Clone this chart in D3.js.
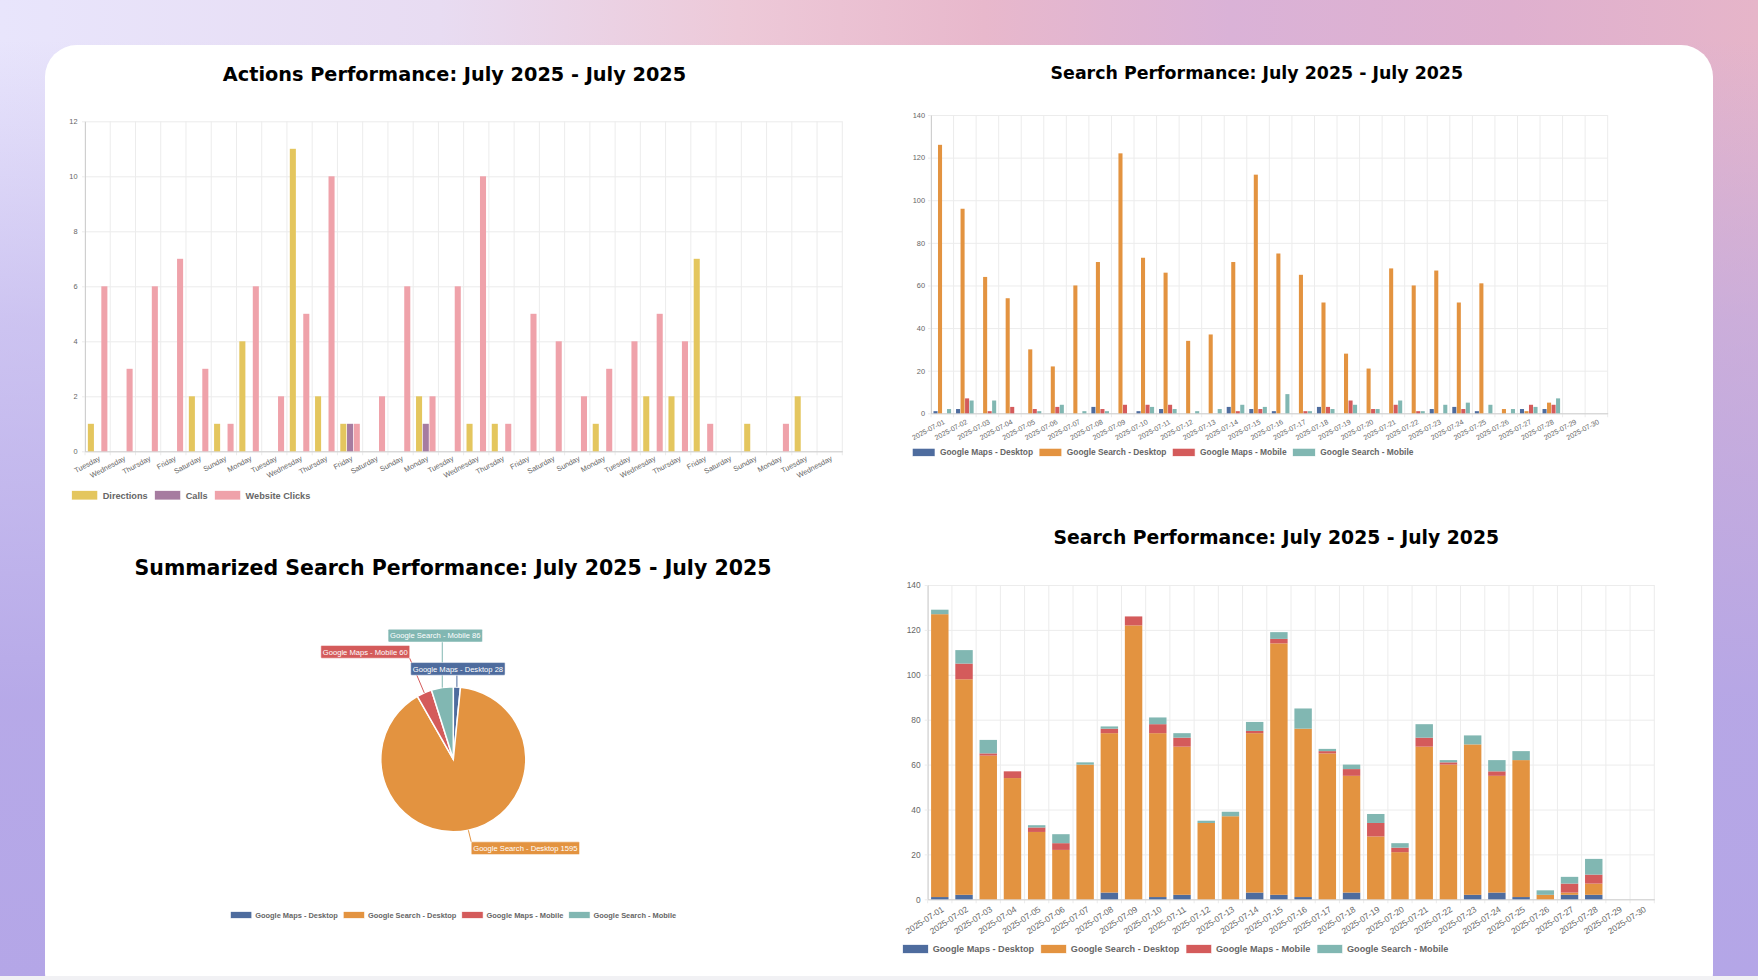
<!DOCTYPE html>
<html><head><meta charset="utf-8">
<script src="https://cdn.jsdelivr.net/npm/d3@7"></script>
<style>
html,body{margin:0;padding:0;width:1758px;height:980px;overflow:hidden;}
body{
 background:
  linear-gradient(180deg, rgba(182,168,232,0) 0px, rgba(182,168,232,0) 40px, rgba(182,168,232,0.55) 320px, rgba(180,166,231,0.95) 700px, rgba(180,166,231,1) 980px),
  linear-gradient(90deg, #e8e5fc 0%, #e8dcf2 25%, #edc9d8 42%, #e8b8cc 56%, #dab2d7 70%, #dfb0cf 86%, #e6b5c9 100%);
}
svg{position:absolute;left:0;top:0;}
</style></head>
<body>
<svg id="c" width="1758" height="980"></svg>
<script>
// ---------- DATA ----------
const dayLabels = ["Tuesday","Wednesday","Thursday","Friday","Saturday","Sunday","Monday",
  "Tuesday","Wednesday","Thursday","Friday","Saturday","Sunday","Monday",
  "Tuesday","Wednesday","Thursday","Friday","Saturday","Sunday","Monday",
  "Tuesday","Wednesday","Thursday","Friday","Saturday","Sunday","Monday",
  "Tuesday","Wednesday"];
const directions    = [1,0,0,0,2,1,4,0,11,2,1,0,0,2,0,1,1,0,0,0,1,0,2,2,7,0,1,0,2,0];
const calls         = [0,0,0,0,0,0,0,0,0,0,1,0,0,1,0,0,0,0,0,0,0,0,0,0,0,0,0,0,0,0];
const websiteClicks = [6,3,6,7,3,1,6,2,5,10,1,2,6,2,6,10,1,5,4,2,3,4,5,4,1,0,0,1,0,0];
const actionTicks = [0,2,4,6,8,10,12];

const dateLabels = ["2025-07-01","2025-07-02","2025-07-03","2025-07-04","2025-07-05","2025-07-06",
  "2025-07-07","2025-07-08","2025-07-09","2025-07-10","2025-07-11","2025-07-12","2025-07-13",
  "2025-07-14","2025-07-15","2025-07-16","2025-07-17","2025-07-18","2025-07-19","2025-07-20",
  "2025-07-21","2025-07-22","2025-07-23","2025-07-24","2025-07-25","2025-07-26","2025-07-27",
  "2025-07-28","2025-07-29","2025-07-30"];
const mapsDesktop   = [1,2,0,0,0,0,0,3,0,1,2,0,0,3,2,1,0,3,0,0,0,0,2,3,1,0,2,2,0,0];
const searchDesktop = [126,96,64,54,30,22,60,71,122,73,66,34,37,71,112,75,65,52,28,21,68,60,67,52,61,2,1,5,0,0];
const mapsMobile    = [0,7,1,3,2,3,0,2,4,4,4,0,0,1,2,0,1,3,6,2,4,1,0,2,0,0,4,4,0,0];
const searchMobile  = [2,6,6,0,1,4,1,1,0,3,2,1,2,4,3,9,1,2,4,2,6,1,4,5,4,2,3,7,0,0];
const searchTicks = [0,20,40,60,80,100,120,140];

const pieLabels = ["Google Maps - Desktop","Google Search - Desktop","Google Maps - Mobile","Google Search - Mobile"];
const pieValues = [28,1595,60,86];

const actionSeries = ["Directions","Calls","Website Clicks"];
const searchSeries = ["Google Maps - Desktop","Google Search - Desktop","Google Maps - Mobile","Google Search - Mobile"];

// ---------- STYLE / LAYOUT ----------
const C = {dir:"#e4c65e", calls:"#a67ca0", clicks:"#efa2aa", md:"#4e6c9e", sd:"#e39340", mm:"#d45b5b", sm:"#81b7b2"};
const actionColors = [C.dir, C.calls, C.clicks];
const searchColors = [C.md, C.sd, C.mm, C.sm];
const gridColor = "#ececec", axisColor = "#cfcfcf", tickColor = "#666";
const FONT = "'Liberation Sans', Arial, Helvetica, sans-serif";
const TFONT = "'DejaVu Sans', sans-serif";
const pieLabelOffsets = [[1,-18],[57,18],[-59,-41],[-7,-52]];

const svg = d3.select("#c");
svg.append("rect").attr("x",45).attr("y",45).attr("width",1668).attr("height",960).attr("rx",32).attr("fill","#fff");
svg.append("rect").attr("x",0).attr("y",976).attr("width",1758).attr("height",4).attr("fill","#f1f1f4");

function title(text, cx, baseline, size){
  svg.append("text").attr("x",cx).attr("y",baseline).attr("text-anchor","middle")
    .attr("font-family",TFONT).attr("font-weight","bold").attr("font-size",size).attr("fill","#000").text(text);
}

function legend(items, colors, cfg){
  const g = svg.append("g");
  let xpos = 0;
  items.forEach((t,i)=>{
    g.append("rect").attr("x",xpos).attr("y",cfg.y-cfg.bh/2).attr("width",cfg.bw).attr("height",cfg.bh)
      .attr("fill",colors[i]).attr("stroke","#fff").attr("stroke-width",0.6);
    const tx = g.append("text").attr("x",xpos+cfg.bw+cfg.gap).attr("y",cfg.y).attr("dy","0.35em")
      .attr("font-family",FONT).attr("font-weight","bold").attr("font-size",cfg.fs).attr("fill",tickColor).text(t);
    xpos += cfg.bw + cfg.gap + tx.node().getComputedTextLength() + cfg.sep;
  });
  const total = xpos - cfg.sep;
  const start = cfg.center !== undefined ? cfg.center - total/2 : cfg.x;
  g.attr("transform",`translate(${start},0)`);
}

function frame(cfg, labels, ticks){
  const g = svg.append("g");
  const x = d3.scaleBand().domain(d3.range(labels.length)).range([cfg.x0,cfg.x1]).padding(0);
  const y = d3.scaleLinear().domain([0, ticks[ticks.length-1]]).range([cfg.y0, cfg.yTop]);
  // horizontal grid
  const gy = g.append("g").attr("transform",`translate(${cfg.x0},0)`)
    .call(d3.axisLeft(y).tickValues(ticks).tickSize(-(cfg.x1-cfg.x0)).tickFormat(""));
  gy.select(".domain").remove();
  gy.selectAll("line").attr("stroke",gridColor);
  // vertical grid at category boundaries
  const bounds = x.domain().map(d=>x(d)).concat([cfg.x1]);
  g.append("g").selectAll("line").data(bounds).join("line")
    .attr("x1",d=>d).attr("x2",d=>d).attr("y1",cfg.yTop).attr("y2",cfg.y0+4).attr("stroke",gridColor);
  // y axis
  const ya = g.append("g").attr("transform",`translate(${cfg.x0},0)`)
    .call(d3.axisLeft(y).tickValues(ticks).tickSize(3).tickSizeOuter(0).tickPadding(cfg.yPad));
  ya.attr("font-family",FONT).attr("font-size",cfg.yfs);
  ya.select(".domain").attr("stroke",axisColor);
  ya.selectAll(".tick line").attr("stroke",gridColor);
  ya.selectAll("text").attr("fill",tickColor);
  // x axis
  const xa = g.append("g").attr("transform",`translate(0,${cfg.y0})`)
    .call(d3.axisBottom(x).tickSize(0).tickSizeOuter(0).tickFormat(i=>labels[i]));
  xa.attr("font-family",FONT).attr("font-size",cfg.xfs);
  xa.select(".domain").attr("stroke",axisColor);
  xa.selectAll("text").attr("y",0).attr("x",0).attr("dy","0.35em").attr("fill",tickColor)
    .attr("text-anchor","end").attr("transform",`translate(${cfg.ldx},${cfg.ldy}) rotate(${-cfg.angle})`);
  return {g,x,y};
}

function groupedBars(f, series, colors){
  const bw = f.x.bandwidth();
  const xs = d3.scaleBand().domain(d3.range(series.length)).range([bw*0.1, bw*0.9]).paddingInner(0.1).paddingOuter(0.05);
  series.forEach((vals,si)=>{
    f.g.append("g").selectAll("rect").data(vals.map((v,i)=>({v,i})).filter(d=>d.v>0)).join("rect")
      .attr("x",d=>f.x(d.i)+xs(si)).attr("width",xs.bandwidth())
      .attr("y",d=>f.y(d.v)).attr("height",d=>f.y(0)-f.y(d.v)).attr("fill",colors[si]);
  });
}

// ---------- Chart A: Actions ----------
title("Actions Performance: July 2025 - July 2025", 454.5, 81, 19.3);
const fA = frame({x0:85,x1:842.3,y0:451.3,yTop:121.3,yPad:4.5,yfs:7.4,xfs:7.4,angle:28,ldx:2,ldy:6.5}, dayLabels, actionTicks);
groupedBars(fA, [directions, calls, websiteClicks], actionColors);
legend(actionSeries, actionColors, {x:71.7, y:495.3, bw:26, bh:9.3, gap:5, sep:7, fs:9.2});

// ---------- Chart B: Search grouped ----------
title("Search Performance: July 2025 - July 2025", 1256.8, 78.5, 17.4);
const fB = frame({x0:931,x1:1607.7,y0:413.3,yTop:115,yPad:3,yfs:7.4,xfs:7,angle:28,ldx:2,ldy:8}, dateLabels, searchTicks);
groupedBars(fB, [mapsDesktop, searchDesktop, mapsMobile, searchMobile], searchColors);
legend(searchSeries, searchColors, {x:912.3, y:452.3, bw:22.7, bh:8, gap:5, sep:6, fs:8.4});

// ---------- Chart D: Search stacked ----------
title("Search Performance: July 2025 - July 2025", 1276.3, 544, 18.8);
const fD = frame({x0:927.7,x1:1654.3,y0:899.3,yTop:585,yPad:4,yfs:8.4,xfs:8.5,angle:33,ldx:3,ldy:9}, dateLabels, searchTicks);
{
  const rows = dateLabels.map((d,i)=>({i, md:mapsDesktop[i], sd:searchDesktop[i], mm:mapsMobile[i], sm:searchMobile[i]}));
  const keys = ["md","sd","mm","sm"];
  const stacked = d3.stack().keys(keys)(rows);
  const bw = fD.x.bandwidth();
  stacked.forEach((layer,k)=>{
    fD.g.append("g").selectAll("rect").data(layer.filter(d=>d[1]-d[0]>0)).join("rect")
      .attr("x",d=>fD.x(d.data.i)+bw*0.14).attr("width",bw*0.72)
      .attr("y",d=>fD.y(d[1])).attr("height",d=>fD.y(d[0])-fD.y(d[1])).attr("fill",searchColors[k]);
  });
}
legend(searchSeries, searchColors, {x:902.7, y:949, bw:25.6, bh:8.7, gap:4.4, sep:6.7, fs:9.15});

// ---------- Chart C: Pie ----------
title("Summarized Search Performance: July 2025 - July 2025", 453, 575, 20.5);
{
  const cx = 453.3, cy = 759.3, r = 72.5;
  const pie = d3.pie().sort(null).value(d=>d)(pieValues);
  const arc = d3.arc().innerRadius(0).outerRadius(r);
  const g = svg.append("g").attr("transform",`translate(${cx},${cy})`);
  g.selectAll("path").data(pie).join("path").attr("d",arc).attr("fill",(d,i)=>searchColors[i])
    .attr("stroke","#fff").attr("stroke-width",1.5);
  const lg = svg.append("g").attr("transform",`translate(${cx},${cy})`);
  pie.forEach((d,i)=>{
    const a = (d.startAngle+d.endAngle)/2;
    const px = r*Math.sin(a), py = -r*Math.cos(a);
    const lx = px + pieLabelOffsets[i][0], ly = py + pieLabelOffsets[i][1];
    const txt = `${pieLabels[i]} ${pieValues[i]}`;
    const t = lg.append("text").attr("font-family",FONT).attr("font-size",7.6).text(txt);
    const tw = t.node().getComputedTextLength();
    const bwid = tw+4, bh = 12.7;
    const bx0 = lx-bwid/2, by0 = ly-bh/2;
    const ex = Math.max(bx0, Math.min(px, bx0+bwid)), ey = Math.max(by0, Math.min(py, by0+bh));
    lg.insert("line","text").attr("x1",px).attr("y1",py).attr("x2",ex).attr("y2",ey)
      .attr("stroke",searchColors[i]).attr("stroke-width",1);
    lg.insert("rect","text").attr("x",bx0).attr("y",by0).attr("width",bwid).attr("height",bh)
      .attr("rx",1).attr("fill",searchColors[i]).attr("stroke","rgba(255,255,255,0.6)").attr("stroke-width",0.8);
    t.attr("x",lx).attr("y",ly).attr("dy","0.35em").attr("text-anchor","middle").attr("fill","#fff");
  });
  // ensure boxes/lines drawn in correct order: lines under boxes
  lg.selectAll("line").lower();
}
legend(searchSeries, searchColors, {center:453.3, y:915, bw:21.3, bh:6.7, gap:3.4, sep:5.4, fs:7.44});
</script>
</body></html>
